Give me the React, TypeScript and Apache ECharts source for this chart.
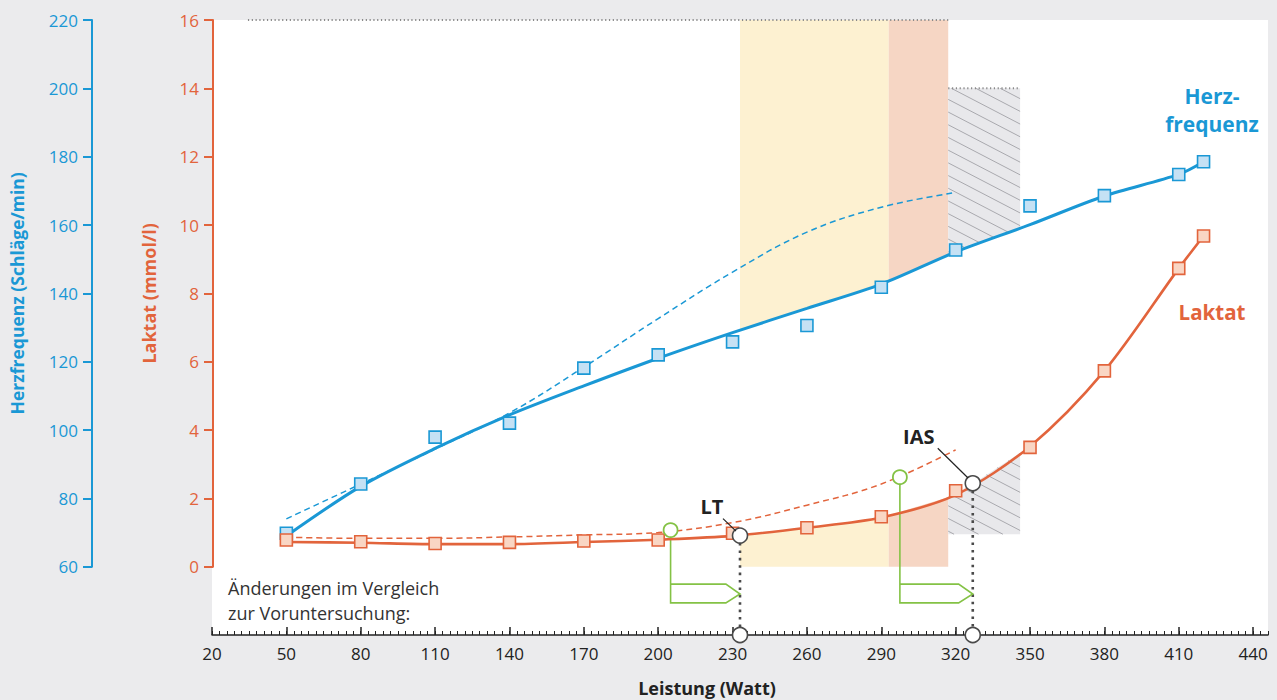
import React, { useEffect, useRef } from "react";
import * as echarts from "echarts";

const FONT = '"Open Sans", "Noto Sans", sans-serif';
const BLUE = "#1a98d5";
const ORANGE = "#e2643c";
const GREEN = "#84c245";
const DARK = "#4a4a4a";
const PAGE_BG = "#ebebed";

// Current test (measured points and fitted curves)
const WATTS = [50, 80, 110, 140, 170, 200, 230, 260, 290, 320, 350, 380, 410, 420];
const HR_MEASURED = [69.8, 84.2, 97.9, 102.0, 118.1, 122.0, 125.8, 130.6, 141.8, 152.7, 165.6, 168.6, 174.8, 178.5];
const HR_FIT = [69.0, 83.5, 94.6, 104.4, 112.9, 121.0, 128.5, 135.6, 142.7, 152.1, 160.1, 168.5, 174.8, 178.5];
const LACTATE_MEASURED = [0.78, 0.73, 0.68, 0.71, 0.75, 0.78, 0.98, 1.14, 1.46, 2.22, 3.49, 5.73, 8.73, 9.68];
const LACTATE_FIT = [0.72, 0.7, 0.66, 0.66, 0.72, 0.79, 0.9, 1.14, 1.44, 2.1, 3.52, 5.73, 8.73, 9.68];

// Previous test (dashed curves)
const PREV_WATTS = [50, 80, 110, 140, 170, 200, 230, 260, 290, 320];
const HR_PREV = [74.0, 84.2, 94.4, 105.0, 118.4, 132.6, 146.2, 157.9, 165.2, 169.5];
const LACTATE_PREV = [0.86, 0.83, 0.83, 0.87, 0.93, 1.0, 1.29, 1.8, 2.42, 3.42];

// Thresholds
const THRESHOLD_NAMES = ["LT", "IAS"];
const THRESHOLD_WATTS = [233, 326.9];
const THRESHOLD_LACTATE = [0.91, 2.44];
const PREV_THRESHOLD_WATTS = [205, 297.5];
const PREV_THRESHOLD_LACTATE = [1.07, 2.62];

// Zones
const ZONE_FROM = [233, 293, 317];
const ZONE_TO = [293, 317, 346];
const ZONE_HR_TOP = [220, 220, 200];
const ZONE_LACTATE_BOTTOM = [0, 0, 0.95];
const ZONE_COLORS = ["#fdf1d1", "#f6d6c4", "#e8e8eb"];
const ZONE_HATCHED = [false, false, true];
const TOP_LINE_START = 34.5;

// Axes
const X_MIN = 20;
const X_MAX = 446;
const X_LABELS = [20, 50, 80, 110, 140, 170, 200, 230, 260, 290, 320, 350, 380, 410, 440];
const LACTATE_MIN = 0;
const LACTATE_MAX = 16;
const LACTATE_STEP = 2;
const LACTATE_DATA_MIN = -2;
const HR_MIN = 60;
const HR_MAX = 220;
const HR_STEP = 20;
const HR_DATA_MIN = 40;

// layout constants for annotation pieces (pixels / axis-space offsets)
const LABEL_OFFSETS = [
  { tx: -28, ty: -29, l1: [-17, -17], l2: [-4, -4.5] },
  { tx: -54, ty: -47, l1: [-35, -35], l2: [-4.7, -5.3] },
];
const ARROW_TOP = -0.51;
const ARROW_MID = -0.8;
const ARROW_BOTTOM = -1.06;
const ARROW_HEAD = 5.7;

function interp(xs: number[], ys: number[], x: number) {
  for (let i = 0; i < xs.length - 1; i++) {
    if (x >= xs[i] && x <= xs[i + 1]) {
      const t = (x - xs[i]) / (xs[i + 1] - xs[i]);
      return ys[i] + t * (ys[i + 1] - ys[i]);
    }
  }
  return x < xs[0] ? ys[0] : ys[ys.length - 1];
}

function curvePoints(api: any, xs: number[], ys: number[], a: number, b: number) {
  const pts: number[][] = [api.coord([a, interp(xs, ys, a)])];
  xs.forEach((x, i) => {
    if (x > a && x < b) pts.push(api.coord([x, ys[i]]));
  });
  pts.push(api.coord([b, interp(xs, ys, b)]));
  return pts;
}

function hatch(poly: number[][], slope = 0.52, step = 12.7) {
  const xs = poly.map((p) => p[0]);
  const ys = poly.map((p) => p[1]);
  const minX = Math.min(...xs), maxX = Math.max(...xs);
  const minY = Math.min(...ys), maxY = Math.max(...ys);
  const cMin = minY - slope * maxX;
  const cMax = maxY - slope * minX;
  const out: any[] = [];
  for (let c = Math.ceil(cMin / step) * step; c <= cMax; c += step) {
    const hits: number[] = [];
    for (let i = 0; i < poly.length; i++) {
      const [x1, y1] = poly[i];
      const [x2, y2] = poly[(i + 1) % poly.length];
      const f1 = y1 - slope * x1 - c;
      const f2 = y2 - slope * x2 - c;
      if (f1 > 0 !== f2 > 0) {
        const t = f1 / (f1 - f2);
        hits.push(x1 + t * (x2 - x1));
      }
    }
    hits.sort((p, q) => p - q);
    for (let k = 0; k + 1 < hits.length; k += 2) {
      out.push({
        type: "line",
        shape: { x1: hits[k], y1: slope * hits[k] + c, x2: hits[k + 1], y2: slope * hits[k + 1] + c },
        style: { stroke: "#a9a9ae", lineWidth: 1 },
      });
    }
  }
  return out;
}

const pairs = (xs: number[], ys: number[]) => xs.map((x, i) => [x, ys[i]]);

export default function App() {
  const ref = useRef<HTMLDivElement>(null);
  useEffect(() => {
    if (!ref.current) return;
    const chart = echarts.init(ref.current, undefined, { renderer: "svg" });

    const gridLeft = 212;
    const gridTop = 20;
    const gridWidth = 1056;
    const dataHeight = 615;
    const axisHeight = (dataHeight * (LACTATE_MAX - LACTATE_MIN)) / (LACTATE_MAX - LACTATE_DATA_MIN);

    const lactateLabelStyle = { color: ORANGE, fontSize: 17, fontFamily: FONT, margin: 14 };
    const hrLabelStyle = { color: BLUE, fontSize: 17, fontFamily: FONT, margin: 14 };

    const upperZones = {
      type: "custom",
      xAxisIndex: 0,
      yAxisIndex: 1,
      silent: true,
      clip: false,
      z: 1,
      data: ZONE_FROM.map((f, i) => [f, ZONE_HR_TOP[i]]),
      renderItem: (params: any, api: any) => {
        const i = params.dataIndex;
        const a = ZONE_FROM[i], b = ZONE_TO[i];
        const curve = curvePoints(api, WATTS, HR_FIT, a, b);
        const poly = [api.coord([a, ZONE_HR_TOP[i]]), api.coord([b, ZONE_HR_TOP[i]]), ...curve.slice().reverse()];
        const children: any[] = [{ type: "polygon", shape: { points: poly }, style: { fill: ZONE_COLORS[i] } }];
        if (ZONE_HATCHED[i]) children.push(...hatch(poly));
        return { type: "group", children };
      },
    };

    const lowerZones = {
      type: "custom",
      xAxisIndex: 0,
      yAxisIndex: 0,
      silent: true,
      clip: false,
      z: 1,
      data: ZONE_FROM.map((f, i) => [f, ZONE_LACTATE_BOTTOM[i]]),
      renderItem: (params: any, api: any) => {
        const i = params.dataIndex;
        const a = ZONE_FROM[i], b = ZONE_TO[i];
        const curve = curvePoints(api, WATTS, LACTATE_FIT, a, b);
        const poly = [...curve, api.coord([b, ZONE_LACTATE_BOTTOM[i]]), api.coord([a, ZONE_LACTATE_BOTTOM[i]])];
        const children: any[] = [{ type: "polygon", shape: { points: poly }, style: { fill: ZONE_COLORS[i] } }];
        if (ZONE_HATCHED[i]) children.push(...hatch(poly));
        return { type: "group", children };
      },
    };

    const dottedTop = (data: number[][]) => ({
      type: "line",
      xAxisIndex: 0,
      yAxisIndex: 1,
      data,
      symbol: "none",
      silent: true,
      clip: false,
      z: 2,
      lineStyle: { color: "#8a8a8a", width: 2, type: [1.2, 2.6] },
    });

    const thresholdDrops = THRESHOLD_WATTS.map((w, i) => ({
      type: "line",
      xAxisIndex: 0,
      yAxisIndex: 0,
      data: [
        [w, THRESHOLD_LACTATE[i]],
        [w, LACTATE_DATA_MIN],
      ],
      symbol: "none",
      silent: true,
      clip: false,
      z: 3,
      lineStyle: { color: DARK, width: 2.6, type: [2.6, 4.8] },
    }));

    const greenArrows = PREV_THRESHOLD_WATTS.map((w, i) => {
      const tip = THRESHOLD_WATTS[i];
      return {
        type: "line",
        xAxisIndex: 0,
        yAxisIndex: 0,
        data: [
          [w, PREV_THRESHOLD_LACTATE[i]],
          [w, ARROW_BOTTOM],
          [tip - ARROW_HEAD, ARROW_BOTTOM],
          [tip, ARROW_MID],
          [tip - ARROW_HEAD, ARROW_TOP],
          [w, ARROW_TOP],
        ],
        symbol: "none",
        silent: true,
        clip: false,
        z: 3,
        lineStyle: { color: GREEN, width: 1.6, join: "miter" },
      };
    });

    const annotations = {
      type: "custom",
      xAxisIndex: 0,
      yAxisIndex: 0,
      silent: true,
      clip: false,
      z: 6,
      data: THRESHOLD_WATTS.map((w, i) => [w, THRESHOLD_LACTATE[i]]),
      renderItem: (params: any, api: any) => {
        const i = params.dataIndex;
        const p = api.coord([api.value(0), api.value(1)]);
        const o = LABEL_OFFSETS[i];
        return {
          type: "group",
          children: [
            {
              type: "line",
              shape: { x1: p[0] + o.l1[0], y1: p[1] + o.l1[1], x2: p[0] + o.l2[0], y2: p[1] + o.l2[1] },
              style: { stroke: "#222", lineWidth: 1.2 },
            },
            {
              type: "text",
              style: {
                text: THRESHOLD_NAMES[i],
                x: p[0] + o.tx,
                y: p[1] + o.ty,
                font: `bold 20px ${FONT}`,
                fill: "#222",
                align: "center",
                verticalAlign: "middle",
                textAlign: "center",
                textVerticalAlign: "middle",
              },
            },
          ],
        };
      },
    };

    const option: any = {
      animation: false,
      backgroundColor: PAGE_BG,
      textStyle: { fontFamily: FONT },
      grid: [
        {
          left: gridLeft,
          top: gridTop,
          width: gridWidth,
          height: dataHeight,
          show: true,
          backgroundColor: "#ffffff",
          borderWidth: 0,
        },
        { left: gridLeft, top: gridTop, width: gridWidth, height: axisHeight, show: false },
      ],
      xAxis: [
        {
          type: "value",
          gridIndex: 0,
          min: X_MIN,
          max: X_MAX,
          interval: 3,
          position: "bottom",
          axisLine: { show: true, onZero: false, lineStyle: { color: "#222", width: 1.5 } },
          axisTick: { show: true, inside: true, length: 4, lineStyle: { color: "#222", width: 1 } },
          axisLabel: {
            show: true,
            customValues: X_LABELS,
            formatter: (v: number) => (X_LABELS.indexOf(Math.round(v)) >= 0 ? String(Math.round(v)) : ""),
            color: "#222",
            fontSize: 17,
            fontFamily: FONT,
            margin: 10,
          },
          splitLine: { show: false },
        },
        {
          type: "value",
          gridIndex: 0,
          min: X_MIN,
          max: X_MAX,
          position: "bottom",
          axisLine: { show: false, onZero: false },
          axisTick: { show: true, inside: true, length: 8, customValues: X_LABELS, lineStyle: { color: "#222", width: 1.5 } },
          axisLabel: { show: false },
          splitLine: { show: false },
        },
        { type: "value", gridIndex: 1, min: X_MIN, max: X_MAX, show: false, axisLine: { onZero: false } },
      ],
      yAxis: [
        { type: "value", gridIndex: 0, min: LACTATE_DATA_MIN, max: LACTATE_MAX, show: false, splitLine: { show: false }, axisLine: { onZero: false } },
        { type: "value", gridIndex: 0, min: HR_DATA_MIN, max: HR_MAX, show: false, splitLine: { show: false }, axisLine: { onZero: false } },
        {
          type: "value",
          gridIndex: 1,
          min: LACTATE_MIN,
          max: LACTATE_MAX,
          interval: LACTATE_STEP,
          position: "left",
          offset: 0,
          name: "Laktat (mmol/l)",
          nameLocation: "middle",
          nameGap: 55,
          nameRotate: 90,
          nameTextStyle: { color: ORANGE, fontSize: 18, fontWeight: "bold", fontFamily: FONT },
          axisLine: { show: true, onZero: false, lineStyle: { color: ORANGE, width: 2 } },
          axisTick: { show: true, inside: false, length: 9, lineStyle: { color: ORANGE, width: 2 } },
          axisLabel: lactateLabelStyle,
          splitLine: { show: false },
        },
        {
          type: "value",
          gridIndex: 1,
          min: HR_MIN,
          max: HR_MAX,
          interval: HR_STEP,
          position: "left",
          offset: 121,
          name: "Herzfrequenz (Schläge/min)",
          nameLocation: "middle",
          nameGap: 66,
          nameRotate: 90,
          nameTextStyle: { color: BLUE, fontSize: 17.5, fontWeight: "bold", fontFamily: FONT },
          axisLine: { show: true, onZero: false, lineStyle: { color: BLUE, width: 2 } },
          axisTick: { show: true, inside: false, length: 9, lineStyle: { color: BLUE, width: 2 } },
          axisLabel: hrLabelStyle,
          splitLine: { show: false },
        },
      ],
      series: [
        upperZones,
        lowerZones,
        dottedTop([
          [TOP_LINE_START, HR_MAX],
          [ZONE_TO[1], HR_MAX],
        ]),
        dottedTop([
          [ZONE_FROM[2], ZONE_HR_TOP[2]],
          [ZONE_TO[2], ZONE_HR_TOP[2]],
        ]),
        {
          type: "line",
          name: "Herzfrequenz Voruntersuchung",
          xAxisIndex: 0,
          yAxisIndex: 1,
          data: pairs(PREV_WATTS, HR_PREV),
          smooth: 0.4,
          symbol: "none",
          silent: true,
          z: 2,
          lineStyle: { color: BLUE, width: 1.5, type: [6, 4] },
        },
        {
          type: "line",
          name: "Laktat Voruntersuchung",
          xAxisIndex: 0,
          yAxisIndex: 0,
          data: pairs(PREV_WATTS, LACTATE_PREV),
          smooth: 0.4,
          symbol: "none",
          silent: true,
          z: 2,
          lineStyle: { color: ORANGE, width: 1.5, type: [6, 4] },
        },
        ...thresholdDrops,
        ...greenArrows,
        {
          type: "line",
          name: "Herzfrequenz",
          xAxisIndex: 0,
          yAxisIndex: 1,
          data: pairs(WATTS, HR_FIT),
          smooth: 0.3,
          symbol: "none",
          silent: true,
          z: 3,
          lineStyle: { color: BLUE, width: 3 },
        },
        {
          type: "line",
          name: "Laktat",
          xAxisIndex: 0,
          yAxisIndex: 0,
          data: pairs(WATTS, LACTATE_FIT),
          smooth: 0.3,
          symbol: "none",
          silent: true,
          z: 3,
          lineStyle: { color: ORANGE, width: 2.6 },
        },
        {
          type: "scatter",
          xAxisIndex: 0,
          yAxisIndex: 1,
          data: pairs(WATTS, HR_MEASURED),
          symbol: "rect",
          symbolSize: 12,
          silent: true,
          clip: false,
          z: 4,
          itemStyle: { color: "#c5e1f4", borderColor: BLUE, borderWidth: 1.6, opacity: 1 },
        },
        {
          type: "scatter",
          xAxisIndex: 0,
          yAxisIndex: 0,
          data: pairs(WATTS, LACTATE_MEASURED),
          symbol: "rect",
          symbolSize: 12,
          silent: true,
          clip: false,
          z: 4,
          itemStyle: { color: "#f9d6c4", borderColor: ORANGE, borderWidth: 1.6, opacity: 1 },
        },
        {
          type: "scatter",
          xAxisIndex: 0,
          yAxisIndex: 0,
          data: pairs(PREV_THRESHOLD_WATTS, PREV_THRESHOLD_LACTATE),
          symbol: "circle",
          symbolSize: 14,
          silent: true,
          clip: false,
          z: 5,
          itemStyle: { color: "#ffffff", borderColor: GREEN, borderWidth: 1.8, opacity: 1 },
        },
        {
          type: "scatter",
          xAxisIndex: 0,
          yAxisIndex: 0,
          data: [
            ...pairs(THRESHOLD_WATTS, THRESHOLD_LACTATE),
            ...THRESHOLD_WATTS.map((w) => [w, LACTATE_DATA_MIN]),
          ],
          symbol: "circle",
          symbolSize: 15,
          silent: true,
          clip: false,
          z: 5,
          itemStyle: { color: "#ffffff", borderColor: DARK, borderWidth: 1.6, opacity: 1 },
        },
        annotations,
      ],
      graphic: [
        {
          type: "text",
          left: 228,
          top: 575,
          silent: true,
          style: {
            text: "Änderungen im Vergleich\nzur Voruntersuchung:",
            font: `18px ${FONT}`,
            fill: "#333",
            lineHeight: 25,
          },
        },
        {
          type: "text",
          x: 1212,
          y: 110,
          silent: true,
          style: {
            text: "Herz-\nfrequenz",
            font: `bold 21px ${FONT}`,
            fill: BLUE,
            lineHeight: 28,
            align: "center",
            verticalAlign: "middle",
            textAlign: "center",
            textVerticalAlign: "middle",
          },
        },
        {
          type: "text",
          x: 1212,
          y: 312,
          silent: true,
          style: {
            text: "Laktat",
            font: `bold 20.5px ${FONT}`,
            fill: ORANGE,
            align: "center",
            verticalAlign: "middle",
            textAlign: "center",
            textVerticalAlign: "middle",
          },
        },
        {
          type: "text",
          x: 707,
          y: 688,
          silent: true,
          style: {
            text: "Leistung (Watt)",
            font: `bold 18px ${FONT}`,
            fill: "#222",
            align: "center",
            verticalAlign: "middle",
            textAlign: "center",
            textVerticalAlign: "middle",
          },
        },
      ],
    };

    chart.setOption(option);
    return () => chart.dispose();
  }, []);

  return (
    <div
      ref={ref}
      style={{ position: "absolute", left: 0, top: 0, width: 1277, height: 700, background: PAGE_BG }}
    />
  );
}
